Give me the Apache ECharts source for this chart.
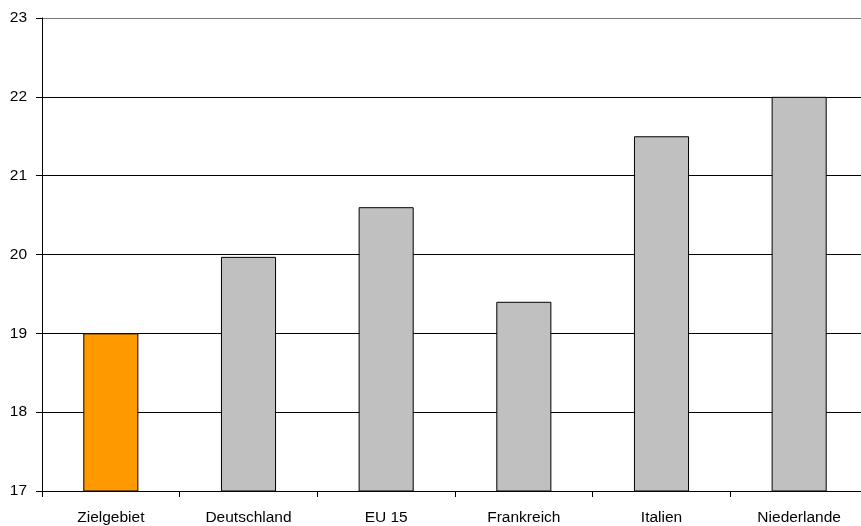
<!DOCTYPE html>
<html>
<head>
<meta charset="utf-8">
<script src="https://cdn.jsdelivr.net/npm/echarts@6/dist/echarts.min.js"></script>
<style>
  html, body { margin: 0; padding: 0; background: #fff; overflow: hidden; }
  #chart { width: 868px; height: 526px; }
</style>
</head>
<body>
<div id="chart"></div>
<script>
// Regions compared in the chart
const categories = ['Zielgebiet', 'Deutschland', 'EU 15', 'Frankreich', 'Italien', 'Niederlande'];
// Value per region
const values = [19.0, 19.97, 20.6, 19.4, 21.5, 22.0];
// Highlighted region gets its own colour
const highlightIndex = 0;
const highlightColor = '#FF9900';
const baseColor = '#C0C0C0';

const chart = echarts.init(document.getElementById('chart'));
chart.setOption({
  animation: false,
  backgroundColor: '#fff',
  grid: { left: 42, right: 0, top: 18, bottom: 34, containLabel: false },
  xAxis: {
    type: 'category',
    data: categories,
    boundaryGap: true,
    axisLine: { lineStyle: { color: '#000', width: 1 } },
    axisTick: { show: true, length: 6, lineStyle: { color: '#000' } },
    axisLabel: { color: '#000', fontFamily: 'Liberation Sans, Arial', fontSize: 15.5, margin: 19 }
  },
  yAxis: {
    type: 'value',
    min: 17,
    max: 23,
    interval: 1,
    axisLine: { show: true, lineStyle: { color: '#000', width: 1 } },
    axisTick: { show: true, length: 6, lineStyle: { color: '#000' } },
    axisLabel: { color: '#000', fontFamily: 'Liberation Sans, Arial', fontSize: 15.5, margin: 15 },
    splitLine: { show: true, lineStyle: { color: ['#000', '#000', '#000', '#000', '#000', '#000', '#777'], width: 1 } }
  },
  series: [{
    type: 'bar',
    data: values.map((v, i) => ({
      value: v,
      itemStyle: { color: i === highlightIndex ? highlightColor : baseColor }
    })),
    barWidth: '40%',
    itemStyle: { borderColor: '#000', borderWidth: 1 }
  }]
});
</script>
</body>
</html>
